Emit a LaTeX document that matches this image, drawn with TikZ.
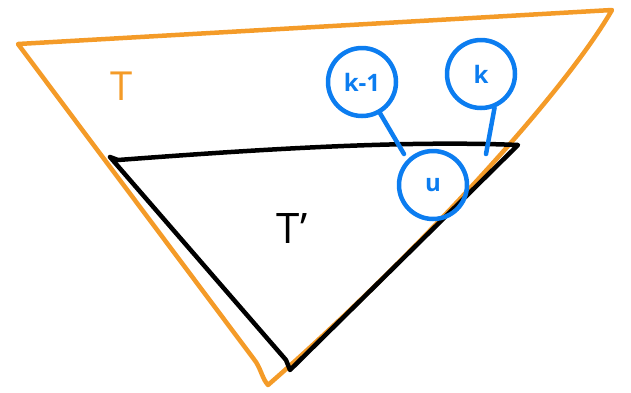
\documentclass[tikz,border=0pt]{standalone}
\usepackage{fontspec}
\setsansfont{Open Sans}
\usepackage{xcolor}
\usepackage{tikz}
\usetikzlibrary{arrows.meta,positioning,calc}

\definecolor{penorange}{RGB}{244,155,40}
\definecolor{penblue}{RGB}{12,125,240}

\begin{document}
\begin{tikzpicture}[>=Latex, x=1pt, y=-1pt, line cap=round, line join=round,
    outer/.style={line width=4.5pt, penorange},
    inner/.style={line width=4.5pt, black},
    bag/.style={circle, draw=penblue, line width=4.5pt, minimum size=68pt,
        inner sep=0pt, text=penblue, font=\sffamily\bfseries\fontsize{24}{24}\selectfont},
    link/.style={line width=4.5pt, penblue}]
    \useasboundingbox (0,0) rectangle (631,392);

    % outer tree T
    \draw[outer] (18,44) -- (612,10)
        .. controls (560,100) and (400,270) .. (268,385)
        .. controls (262,378) and (262,372) .. (256,362)
        -- cycle;
    \node[text=penorange, font=\sffamily\fontsize{40}{40}\selectfont] (labT) at (122,86) {T};

    % inner tree T'
    \draw[inner] (110,157) -- (118,160) .. controls (250,150) and (400,140) .. (518,145)
        -- (290,370) -- (286,360) -- (110,157);
    \node[font=\sffamily\fontsize{42}{42}\selectfont] (labTp) at (292,228) {T'};

    % bags
    \node[bag] (bagK1) at (362,82) {k-1};
    \node[bag] (bagK) at (481,74) {k};
    \node[bag] (bagU) at (433,185) {u};

    \coordinate (k1end) at (404,154);
    \coordinate (kend) at (486,154);
    \draw[link] (bagK1.-60) -- (k1end);
    \draw[link] (bagK.-68) -- (kend);
\end{tikzpicture}
\end{document}
